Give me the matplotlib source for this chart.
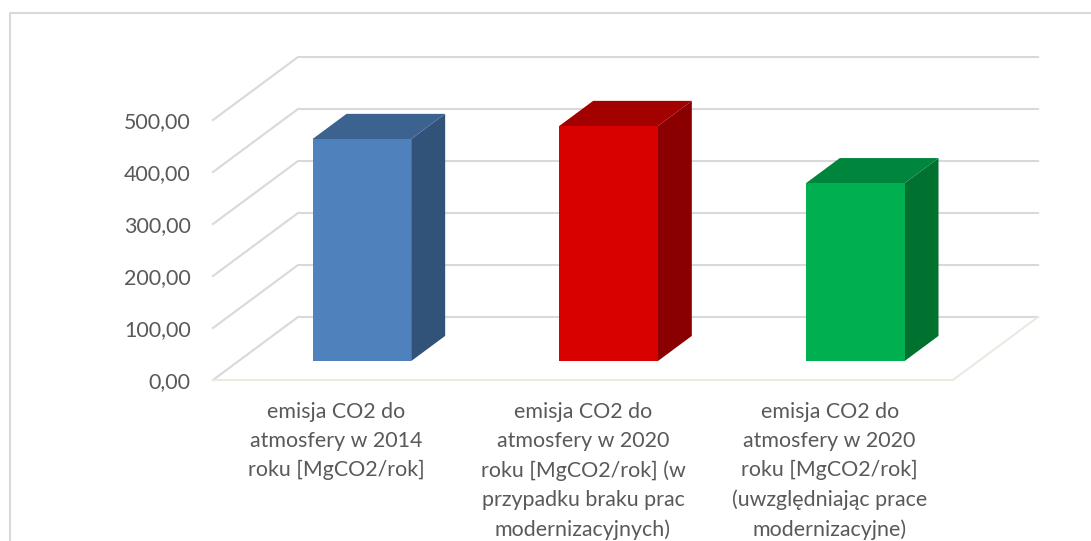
import numpy as np
import matplotlib
matplotlib.use('Agg')
import matplotlib.pyplot as plt
from matplotlib.lines import Line2D
from matplotlib.patches import Polygon

W, H = 1091, 541

categories = [
    'emisja CO2 do\natmosfery w 2014\nroku [MgCO2/rok]',
    'emisja CO2 do\natmosfery w 2020\nroku [MgCO2/rok] (w\nprzypadku braku prac\nmodernizacyjnych)',
    'emisja CO2 do\natmosfery w 2020\nroku [MgCO2/rok]\n(uwzględniając prace\nmodernizacyjne)',
]
values = [427, 452, 342]
ticks = [0, 100, 200, 300, 400, 500]
tick_labels = ['0,00', '100,00', '200,00', '300,00', '400,00', '500,00']
front_colors = ['#4f81bd', '#d90000', '#00b050']
top_colors = ['#3c628f', '#a30000', '#00853c']
side_colors = ['#325379', '#8a0000', '#00712f']

GRID = '#d9d9d9'
FLOOR = '#ebeae0'
TEXT = '#595959'

# oblique offset of the full chart depth, in data units
DEPTH_X = 85 / (740 / 3)
DEPTH_Y = 63 / 52 * 100
BAR_WIDTH = 0.40
BAR_D0, BAR_D1 = 0.30, 0.70


def proj(x, y, d):
    """Front-plane data coords for a point at depth d (0 front, 1 back)."""
    return x + d * DEPTH_X, y + d * DEPTH_Y


plt.rcParams['font.family'] = ['Lato', 'DejaVu Sans']
fig = plt.figure(figsize=(W / 100, H / 100), dpi=100)
ax = fig.add_axes([213 / W, 1 - 380 / H, 740 / W, 260 / H])
ax.set_xlim(0, 3)
ax.set_ylim(0, 500)
ax.patch.set_visible(False)
for s in ax.spines.values():
    s.set_visible(False)

# chart frame
fig.add_artist(Line2D([10 / W, 10 / W, 1], [0, 1 - 13 / H, 1 - 13 / H], color=GRID, lw=1.5))

# wall gridlines
for t in ticks:
    x0, y0 = proj(0, t, 0)
    x1, y1 = proj(0, t, 1)
    x2, y2 = proj(3, t, 1)
    ax.plot([x0, x1, x2], [y0, y1, y2], color=GRID, lw=1.5, clip_on=False, zorder=1,
            solid_joinstyle='miter')

# floor edges
fx = [proj(0, 0, 0), proj(3, 0, 0), proj(3, 0, 1)]
ax.plot([p[0] for p in fx], [p[1] for p in fx], color=FLOOR, lw=1.5, clip_on=False, zorder=1.5)

for i, v in enumerate(values):
    left = i + 0.5 - BAR_WIDTH / 2
    right = i + 0.5 + BAR_WIDTH / 2
    front = [proj(left, 0, BAR_D0), proj(right, 0, BAR_D0), proj(right, v, BAR_D0), proj(left, v, BAR_D0)]
    side = [proj(right, 0, BAR_D0), proj(right, 0, BAR_D1), proj(right, v, BAR_D1), proj(right, v, BAR_D0)]
    top = [proj(left, v, BAR_D0), proj(right, v, BAR_D0), proj(right, v, BAR_D1), proj(left, v, BAR_D1)]
    ax.add_patch(Polygon(side, closed=True, fc=side_colors[i], ec='none', clip_on=False, zorder=3))
    ax.add_patch(Polygon(top, closed=True, fc=top_colors[i], ec='none', clip_on=False, zorder=3))
    ax.add_patch(Polygon(front, closed=True, fc=front_colors[i], ec='none', clip_on=False, zorder=4))

ax.set_yticks(ticks)
ax.set_yticklabels(tick_labels, fontsize=15.4, color=TEXT)
ax.tick_params(axis='y', length=0, pad=16)
ax.set_xticks(np.arange(3) + 0.5)
ax.set_xticklabels(categories, fontsize=15.4, color=TEXT, linespacing=1.56)
ax.tick_params(axis='x', length=0, pad=16)

fig.savefig('out.png', dpi=100)
